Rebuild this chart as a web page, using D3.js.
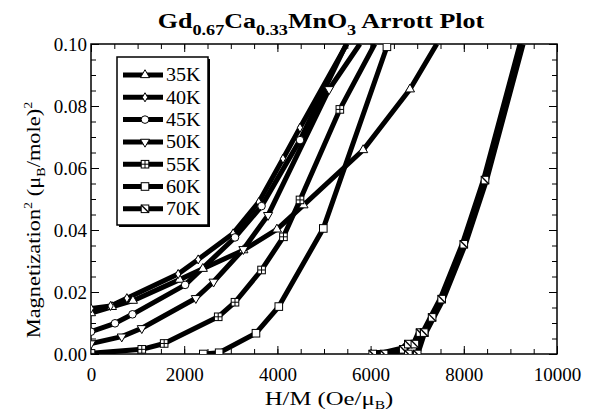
<!DOCTYPE html>
<html>
<head>
<meta charset="utf-8">
<script src="https://cdn.jsdelivr.net/npm/d3@7"></script>
<style>
  body { margin: 0; background: #fff; }
  svg { display: block; font-family: "Liberation Serif", "DejaVu Serif", serif; }
</style>
</head>
<body>
<svg id="svg" width="594" height="413"></svg>
<script>
// values: [H/M, M^2]
const seriesNames = ["35K", "40K", "45K", "50K", "55K", "60K", "70K"];
const symbolKinds = ["up", "diamond", "circle", "down", "crossSquare", "square", "hatchSquare"];

const s35 = [[0, 0.0132], [450, 0.0152], [900, 0.0172], [1900, 0.0240], [2400, 0.0275], [3270, 0.0335],
             [3990, 0.0402], [4560, 0.0480], [5840, 0.0658], [6845, 0.0854], [7420, 0.1000]];
const s40 = [[0, 0.0147], [420, 0.0155], [770, 0.0180], [1870, 0.0258], [2300, 0.0305], [3050, 0.0389],
             [3600, 0.0490], [4120, 0.0630], [4485, 0.0730], [5490, 0.1000]];
const s45 = [[0, 0.0072], [515, 0.0099], [890, 0.0128], [2020, 0.0223], [3090, 0.0376], [3660, 0.0477],
             [4485, 0.0690], [5480, 0.1000]];
const s50 = [[0, 0.0034], [660, 0.0056], [1090, 0.0083], [2250, 0.0180], [2630, 0.0233], [3270, 0.0338],
             [3800, 0.0448], [5110, 0.0854], [5770, 0.1000]];
const s55 = [[0, 0.0002], [1090, 0.0015], [1570, 0.0034], [2730, 0.0120], [3090, 0.0167], [3660, 0.0271],
             [4130, 0.0378], [4485, 0.0497], [5340, 0.0789], [6090, 0.1000]];
const s60 = [[2410, 0.0000], [2750, 0.0004], [3540, 0.0067], [4030, 0.0153], [4985, 0.0405], [6350, 0.0991]];
const s70 = [[6045, 0.0000], [6290, 0.0000], [6700, 0.0015], [6810, 0.0032], [6950, 0.0032], [7060, 0.0069],
             [7150, 0.0069], [7320, 0.0118], [7525, 0.0177], [8000, 0.0354], [8455, 0.0561], [9240, 0.1000]];
const s70b = [[6810, 0.0000], [7000, 0.0000], [7150, 0.0069]];

const seriesData = [s35, s40, s45, s50, s55, s60, s70];
const lineWidths = [5, 5, 5, 5, 5, 5, 8];

const xTicks = d3.range(0, 10001, 500);
const xLabels = [0, 2000, 4000, 6000, 8000, 10000];
const yTicks = d3.range(0, 0.1001, 0.005);
const yLabels = [0, 0.02, 0.04, 0.06, 0.08, 0.10];

const svg = d3.select("#svg");
const plot = {left: 91, right: 557, top: 44, bottom: 354};

const x = d3.scaleLinear().domain([0, 10000]).range([plot.left, plot.right]);
const y = d3.scaleLinear().domain([0, 0.1]).range([plot.bottom, plot.top]);

svg.append("clipPath").attr("id", "clip")
    .append("rect")
    .attr("x", plot.left).attr("y", plot.top)
    .attr("width", plot.right - plot.left).attr("height", plot.bottom - plot.top);

// axes, ticks inside on all four sides
function drawAxis(axis, tx, ty) {
    const g = svg.append("g").attr("transform", "translate(" + [tx, ty] + ")").call(axis);
    g.select(".domain").remove();
    g.selectAll("line").attr("stroke", "#000").attr("stroke-width", 1);
    g.selectAll("text").attr("font-size", 19).attr("fill", "#000")
        .attr("font-family", "'Liberation Serif', serif");
    return g;
}
drawAxis(d3.axisBottom(x).tickValues(xTicks).tickSize(-5).tickFormat(""), 0, plot.bottom);
drawAxis(d3.axisBottom(x).tickValues(xLabels).tickSize(-8).tickPadding(14).tickFormat(d3.format("d")), 0, plot.bottom);
drawAxis(d3.axisTop(x).tickValues(xTicks).tickSize(-5).tickFormat(""), 0, plot.top);
drawAxis(d3.axisTop(x).tickValues(xLabels).tickSize(-8).tickFormat(""), 0, plot.top);
drawAxis(d3.axisLeft(y).tickValues(yTicks).tickSize(-5).tickFormat(""), plot.left, 0);
drawAxis(d3.axisLeft(y).tickValues(yLabels).tickSize(-8).tickPadding(4).tickFormat(d3.format(".2f")), plot.left, 0);
drawAxis(d3.axisRight(y).tickValues(yTicks).tickSize(-5).tickFormat(""), plot.right, 0);
drawAxis(d3.axisRight(y).tickValues(yLabels).tickSize(-8).tickFormat(""), plot.right, 0);

svg.append("rect")
    .attr("x", plot.left).attr("y", plot.top)
    .attr("width", plot.right - plot.left).attr("height", plot.bottom - plot.top)
    .attr("fill", "none").attr("stroke", "#000").attr("stroke-width", 1.5);

// markers
function drawMarker(g, kind, cx, cy) {
    const m = g.append("g").attr("transform", "translate(" + [cx, cy] + ")")
        .attr("fill", "#fff").attr("stroke", "#000").attr("stroke-width", 1);
    if (kind === "up") {
        m.append("path").attr("d", d3.symbol(d3.symbolTriangle, 36)());
    } else if (kind === "down") {
        m.append("path").attr("d", d3.symbol(d3.symbolTriangle, 36)()).attr("transform", "rotate(180)");
    } else if (kind === "diamond") {
        m.append("path").attr("d", d3.symbol(d3.symbolDiamond, 24)());
    } else if (kind === "circle") {
        m.append("circle").attr("r", 3.8);
    } else {
        m.append("rect").attr("x", -3.8).attr("y", -3.8).attr("width", 7.6).attr("height", 7.6);
        if (kind === "crossSquare") {
            m.append("path").attr("d", "M-3.8,0H3.8M0,-3.8V3.8");
        } else if (kind === "hatchSquare") {
            m.append("path").attr("d", "M-3.8,-3.8L3.8,3.8").attr("stroke-width", 1.4);
        }
    }
}

const line = d3.line().x(d => x(d[0])).y(d => y(d[1]));
const plotG = svg.append("g").attr("clip-path", "url(#clip)");

seriesData.forEach((data, i) => {
    plotG.append("path").datum(data).attr("d", line)
        .attr("fill", "none").attr("stroke", "#000")
        .attr("stroke-width", lineWidths[i]).attr("stroke-linejoin", "round");
});
plotG.append("path").datum(s70b).attr("d", line)
    .attr("fill", "none").attr("stroke", "#000").attr("stroke-width", 6);

seriesData.forEach((data, i) => {
    data.filter(d => d[1] < 0.1).forEach(d => drawMarker(plotG, symbolKinds[i], x(d[0]), y(d[1])));
});
s70b.forEach(d => drawMarker(plotG, "hatchSquare", x(d[0]), y(d[1])));

// legend
const legend = {x: 117, y: 57, w: 91, h: 168, row: 22.3};
svg.append("rect").attr("x", legend.x + 2).attr("y", legend.y + 2)
    .attr("width", legend.w).attr("height", legend.h).attr("fill", "#000");
svg.append("rect").attr("x", legend.x).attr("y", legend.y)
    .attr("width", legend.w).attr("height", legend.h)
    .attr("fill", "#fff").attr("stroke", "#000").attr("stroke-width", 1.5);

seriesNames.forEach((name, i) => {
    const cy = 75 + i * legend.row;
    svg.append("line").attr("x1", 123).attr("x2", 163).attr("y1", cy).attr("y2", cy)
        .attr("stroke", "#000").attr("stroke-width", 5);
    drawMarker(svg, symbolKinds[i], 145, cy);
    svg.append("text").attr("x", 166).attr("y", cy + 6.5)
        .attr("font-size", 19).attr("transform", "translate(166," + (cy + 6.5) + ") scale(1.06,1) translate(-166," + (-(cy + 6.5)) + ")")
        .text(name);
});

// title (the original face is wider than Liberation Serif, so stretch it)
const title = svg.append("text").attr("transform", "translate(321,28) scale(1.3,1)")
    .attr("text-anchor", "middle").attr("font-size", 20).attr("font-weight", "bold");
title.append("tspan").text("Gd");
title.append("tspan").attr("font-size", 14).attr("dy", 7).text("0.67");
title.append("tspan").attr("dy", -7).text("Ca");
title.append("tspan").attr("font-size", 14).attr("dy", 7).text("0.33");
title.append("tspan").attr("dy", -7).text("MnO");
title.append("tspan").attr("font-size", 14).attr("dy", 7).text("3");
title.append("tspan").attr("dy", -7).text(" Arrott Plot");

// axis titles
const xt = svg.append("text").attr("transform", "translate(329,405) scale(1.3,1)")
    .attr("text-anchor", "middle").attr("font-size", 19);
xt.append("tspan").text("H/M (Oe/\u03bc");
xt.append("tspan").attr("font-size", 12).attr("dy", 4).text("B");
xt.append("tspan").attr("dy", -4).text(")");

const yt = svg.append("text").attr("transform", "translate(40,220) rotate(-90) scale(1.18,1)")
    .attr("text-anchor", "middle").attr("font-size", 19);
yt.append("tspan").text("Magnetization");
yt.append("tspan").attr("font-size", 12).attr("dy", -8).text("2");
yt.append("tspan").attr("dy", 8).text(" (\u03bc");
yt.append("tspan").attr("font-size", 12).attr("dy", 5).text("B");
yt.append("tspan").attr("dy", -5).text("/mole)");
yt.append("tspan").attr("font-size", 12).attr("dy", -8).text("2");
</script>
</body>
</html>
